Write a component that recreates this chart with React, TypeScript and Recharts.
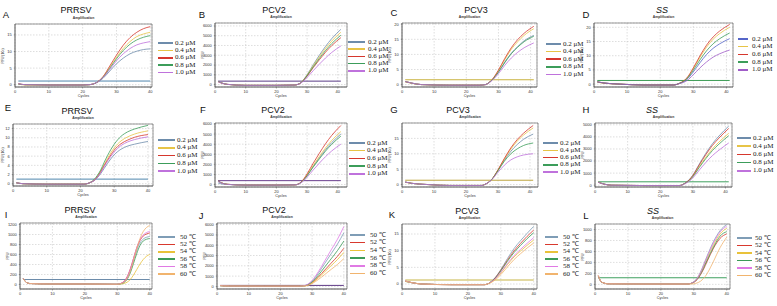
import React from 'react';
import { LineChart, Line, XAxis, YAxis, CartesianGrid, ReferenceLine, ReferenceArea } from 'recharts';

const muNames = ['0.2 μM', '0.4 μM', '0.6 μM', '0.8 μM', '1.0 μM'];
const tempNames = ['50 ℃', '52 ℃', '54 ℃', '56 ℃', '58 ℃', '60 ℃'];
const muColors = ['#6d8cab', '#e7c447', '#d6372d', '#3c9d5a', '#bf72dc'];
const muColorsD = ['#5565c8', '#e7c447', '#d6372d', '#3c9d5a', '#a05cc8'];
const tempColors = ['#7f9db6', '#d8392e', '#e9c23a', '#3c9a58', '#e07ae4', '#f1b46e'];
const xTicks = [0, 10, 20, 30, 40];

// Panel A – PRRSV primer conc.
const cyclesA = [1, 3, 10, 20, 22, 24, 26, 28, 30, 32, 34, 36, 38, 40];
const a02 = [0.2, 0.0, -0.1, -0.1, 0.0, 0.5, 1.9, 4.1, 6.3, 8.0, 9.3, 10.1, 10.6, 10.8];
const a04 = [0.2, -0.1, -0.1, -0.1, 0.0, 0.6, 2.3, 5.2, 8.2, 10.9, 13.0, 14.5, 15.3, 15.8];
const a06 = [0.3, 0.0, -0.1, -0.1, 0.0, 0.6, 2.4, 5.6, 8.9, 11.9, 14.2, 15.8, 16.9, 17.5];
const a08 = [0.2, 0.0, -0.1, -0.1, 0.0, 0.6, 2.2, 4.9, 7.8, 10.3, 12.2, 13.5, 14.3, 14.8];
const a10 = [0.3, 0.0, -0.1, -0.1, 0.0, 0.6, 2.1, 4.6, 7.2, 9.3, 10.9, 12.0, 12.6, 13.0];

// Panel B – PCV2
const cyclesB = [1, 2, 4, 10, 20, 26, 27, 28, 29, 30, 32, 34, 36, 38, 41];
const b02 = [320, 180, 20, -80, -80, -50, 30, 200, 560, 1000, 2030, 3000, 3900, 4690, 5650];
const b04 = [300, 170, 20, -80, -80, -50, 20, 190, 530, 960, 1930, 2840, 3690, 4440, 5350];
const b06 = [310, 170, 20, -80, -80, -50, 20, 170, 480, 860, 1730, 2540, 3310, 3980, 4800];
const b08 = [330, 180, 20, -80, -80, -50, 20, 180, 500, 910, 1820, 2680, 3480, 4190, 5050];
const b10 = [290, 160, 20, -80, -80, -50, 20, 160, 400, 720, 1420, 2090, 2720, 3280, 3950];

// Panel C – PCV3
const cyclesC = [1, 3, 6, 15, 24, 26, 27, 28, 30, 32, 34, 36, 38, 41];
const c02 = [1.0, 0.5, 0.0, -0.2, -0.2, 0.0, 0.6, 1.5, 4.2, 7.5, 10.4, 12.6, 14.5, 16.3];
const c04 = [0.9, 0.4, 0.0, -0.2, -0.2, 0.0, 0.6, 1.6, 4.6, 8.3, 11.7, 14.2, 16.3, 18.5];
const c06 = [1.0, 0.5, 0.0, -0.2, -0.2, 0.0, 0.6, 1.6, 4.8, 8.7, 12.2, 14.9, 17.0, 19.3];
const c08 = [1.0, 0.5, 0.0, -0.2, -0.2, 0.0, 0.6, 1.5, 4.1, 7.3, 10.2, 12.4, 14.2, 16.0];
const c10 = [1.0, 0.5, 0.0, -0.2, -0.2, 0.0, 0.5, 1.3, 3.6, 6.4, 8.8, 10.7, 12.2, 13.8];

// Panel D – SS
const cyclesD = [1, 3, 8, 15, 24, 26, 27, 28, 30, 32, 34, 36, 38, 41];
const d02 = [0.8, 0.4, 0.0, -0.3, -0.3, 0.3, 0.8, 1.6, 4.3, 7.5, 10.4, 12.6, 14.2, 16.0];
const d04 = [0.7, 0.3, 0.0, -0.3, -0.3, 0.4, 1.0, 2.0, 5.4, 9.4, 13.0, 15.8, 17.8, 20.0];
const d06 = [0.8, 0.4, 0.0, -0.3, -0.3, 0.4, 1.1, 2.1, 5.7, 9.9, 13.7, 16.6, 18.7, 21.0];
const d08 = [0.8, 0.4, 0.0, -0.3, -0.3, 0.4, 0.9, 1.8, 4.9, 8.5, 11.7, 14.2, 16.0, 18.0];
const d10 = [0.8, 0.4, 0.0, -0.3, -0.3, 0.3, 0.6, 1.2, 3.3, 5.7, 7.8, 9.5, 10.7, 12.0];

// Panel E – PRRSV probe conc.
const cyclesE = [1, 3, 10, 21, 23, 24, 25, 26, 27, 28, 30, 32, 34, 36, 40];
const e02 = [0.2, 0.0, -0.1, -0.1, 0.3, 0.6, 1.3, 2.2, 3.3, 4.4, 6.3, 7.5, 8.2, 8.6, 9.2];
const e04 = [0.2, 0.0, -0.1, -0.1, 0.3, 0.8, 1.6, 2.8, 4.1, 5.5, 7.8, 9.3, 10.2, 10.8, 11.5];
const e06 = [0.2, 0.0, -0.1, -0.1, 0.3, 0.7, 1.5, 2.6, 3.9, 5.1, 7.3, 8.7, 9.5, 10.1, 10.7];
const e08 = [0.2, 0.0, -0.1, -0.1, 0.3, 0.9, 1.8, 3.0, 4.6, 6.1, 8.6, 10.3, 11.3, 11.9, 12.7];
const e10 = [0.2, 0.0, -0.1, -0.1, 0.3, 0.7, 1.4, 2.4, 3.7, 4.9, 6.9, 8.3, 9.1, 9.6, 10.2];

// Panel F – PCV2
const cyclesF = [1, 2, 4, 10, 20, 26, 27, 28, 29, 30, 32, 34, 36, 38, 41];
const f02 = [150, 60, 0, -60, -60, -40, 20, 200, 500, 900, 1800, 2650, 3450, 4150, 5000];
const f04 = [330, 170, 20, -60, -60, -40, 20, 210, 530, 950, 1890, 2780, 3620, 4360, 5250];
const f06 = [350, 180, 20, -60, -60, -40, 30, 230, 590, 1050, 2110, 3100, 4040, 4860, 5850];
const f08 = [340, 170, 20, -60, -60, -40, 20, 190, 480, 860, 1730, 2540, 3310, 3980, 4800];
const f10 = [300, 150, 10, -60, -60, -40, 20, 160, 400, 720, 1440, 2120, 2760, 3320, 4000];

// Panel G – PCV3
const cyclesG = [1, 3, 8, 15, 25, 26, 27, 28, 30, 32, 34, 36, 38, 41];
const g02 = [0.8, 0.4, 0.0, -0.3, -0.3, 0.1, 0.7, 1.6, 4.6, 7.9, 10.8, 13.0, 14.7, 16.4];
const g04 = [0.7, 0.4, 0.0, -0.3, -0.3, 0.1, 0.7, 1.6, 4.7, 8.3, 11.5, 14.1, 16.1, 18.4];
const g06 = [0.8, 0.4, 0.0, -0.3, -0.3, 0.1, 0.7, 1.6, 4.8, 8.5, 11.9, 14.6, 16.7, 19.2];
const g08 = [0.8, 0.4, 0.0, -0.3, -0.3, 0.1, 0.7, 1.6, 4.5, 7.6, 10.0, 11.6, 12.7, 13.5];
const g10 = [0.8, 0.4, 0.0, -0.3, -0.3, 0.1, 0.7, 1.5, 4.0, 6.3, 8.0, 9.0, 9.6, 10.0];

// Panel H – SS
const cyclesH = [1, 3, 5, 15, 26, 27, 28, 29, 30, 32, 34, 36, 38, 41];
const h02 = [250, 80, 0, -30, -30, 70, 250, 490, 830, 1760, 2650, 3430, 4070, 4900];
const h04 = [260, 80, 0, -30, -30, 60, 220, 430, 730, 1550, 2320, 3010, 3570, 4300];
const h06 = [240, 70, 0, -30, -30, 70, 240, 470, 800, 1690, 2540, 3290, 3900, 4700];
const h08 = [250, 80, 0, -30, -30, 60, 210, 410, 700, 1480, 2210, 2870, 3400, 4100];
const h10 = [240, 70, 0, -30, -30, 50, 180, 350, 600, 1260, 1890, 2450, 2900, 3500];

// Panel I – PRRSV annealing temp.
const cyclesI = [1, 2, 3, 10, 20, 30, 31, 32, 33, 34, 35, 36, 37, 38, 39, 40];
const i50 = [120, 40, 20, 10, 10, 5, 15, 45, 120, 270, 470, 680, 830, 910, 945, 960];
const i52 = [120, 40, 20, 10, 10, 5, 20, 60, 150, 310, 520, 730, 880, 970, 1010, 1030];
const i54 = [110, 40, 20, 10, 10, 3, 8, 20, 45, 100, 190, 300, 410, 500, 565, 600];
const i56 = [120, 40, 20, 10, 10, 5, 12, 35, 100, 230, 420, 620, 780, 870, 905, 920];
const i58 = [120, 40, 20, 10, 10, 5, 20, 55, 140, 300, 520, 740, 900, 990, 1040, 1060];
const i60 = [120, 40, 20, 10, 10, 5, 15, 40, 110, 260, 480, 720, 920, 1060, 1140, 1180];

// Panel J – PCV2
const cyclesJ = [1, 2, 4, 15, 26, 27, 28, 29, 30, 32, 34, 36, 38, 40];
const j50 = [80, 50, 40, 30, 30, 55, 105, 260, 520, 1300, 2240, 3170, 4110, 5200];
const j52 = [90, 60, 40, 30, 30, 50, 75, 185, 370, 925, 1590, 2260, 2920, 3700];
const j54 = [80, 50, 40, 30, 30, 45, 65, 165, 330, 825, 1420, 2010, 2610, 3300];
const j56 = [80, 50, 40, 30, 30, 50, 90, 220, 440, 1100, 1890, 2680, 3480, 4400];
const j58 = [90, 60, 40, 30, 30, 60, 120, 290, 580, 1450, 2490, 3540, 4580, 5800];
const j60 = [80, 50, 40, 30, 30, 40, 55, 135, 270, 675, 1160, 1650, 2130, 2700];

// Panel K – PCV3
const cyclesK = [1, 3, 6, 15, 25, 26, 27, 28, 30, 32, 34, 36, 38, 40];
const k50 = [0.8, 0.4, 0.0, -0.2, -0.2, 0.0, 0.7, 1.6, 4.3, 7.6, 10.6, 13.0, 15.2, 17.3];
const k52 = [0.9, 0.4, 0.0, -0.2, -0.2, 0.0, 0.6, 1.5, 4.1, 7.1, 9.9, 12.2, 14.3, 16.2];
const k54 = [0.8, 0.4, 0.0, -0.2, -0.2, 0.0, 0.5, 1.2, 3.3, 5.8, 8.1, 9.9, 11.6, 13.2];
const k56 = [0.8, 0.4, 0.0, -0.2, -0.2, 0.0, 0.6, 1.4, 3.9, 6.8, 9.4, 11.6, 13.6, 15.4];
const k58 = [0.9, 0.4, 0.0, -0.2, -0.2, 0.0, 0.6, 1.3, 3.5, 6.1, 8.5, 10.4, 12.2, 13.9];
const k60 = [0.8, 0.4, 0.0, -0.2, -0.2, 0.0, 0.4, 1.0, 2.8, 5.1, 7.3, 9.1, 10.8, 12.3];

// Panel L – SS
const cyclesL = [1, 2, 4, 15, 28, 30, 31, 32, 33, 34, 35, 36, 37, 38, 40];
const l50 = [160, 40, 10, 5, 5, 45, 110, 220, 360, 510, 650, 780, 890, 980, 1090];
const l52 = [150, 40, 10, 5, 5, 35, 85, 170, 280, 410, 540, 660, 760, 840, 920];
const l54 = [160, 40, 10, 5, 5, 40, 100, 200, 330, 470, 600, 720, 830, 920, 1020];
const l56 = [150, 40, 10, 5, 5, 40, 95, 185, 305, 435, 560, 680, 790, 880, 960];
const l58 = [160, 40, 10, 5, 5, 45, 105, 210, 345, 490, 630, 755, 865, 955, 1060];
const l60 = [160, 40, 10, 5, 5, 10, 25, 55, 110, 190, 300, 420, 550, 670, 860];

const thresholds = { A: 1.1, B: 350, C: 1.6, D: 1.3, E: 1.0, F: 380, G: 1.4, H: 280, I: 100, J: 100, K: 1.2, L: 120 };

type Spec = {
  letter: string;
  title: string;
  italic?: boolean;
  letterPos: [number, number];
  titlePos: [number, number];
  plot: [number, number, number, number];
  xDomain: [number, number];
  yDomain: [number, number];
  yTicks: number[];
  yLabel: string;
  cycles: number[];
  series: number[][];
  names: string[];
  colors: string[];
  threshold: number;
  thrColor: string;
  legend: [number, number, number, number, number];
};

const panels: Spec[] = [
  { letter: 'A', title: 'PRRSV', letterPos: [6, 15], titlePos: [76, 10], plot: [15, 24, 137, 63], xDomain: [0, 40.5], yDomain: [-0.7, 18.3], yTicks: [0, 5, 10, 15], yLabel: 'RFU (10³)', cycles: cyclesA, series: [a02, a04, a06, a08, a10], names: muNames, colors: muColors, threshold: thresholds.A, thrColor: '#4f86ad', legend: [158, 43, 7.4, 15, 2] },
  { letter: 'B', title: 'PCV2', letterPos: [202, 15], titlePos: [274, 10], plot: [215, 23, 132, 64], xDomain: [0, 43], yDomain: [-250, 6300], yTicks: [0, 1000, 2000, 3000, 4000, 5000, 6000], yLabel: 'RFU', cycles: cyclesB, series: [b02, b04, b06, b08, b10], names: muNames, colors: muColors, threshold: thresholds.B, thrColor: '#5a3c86', legend: [348, 42, 7.2, 17, 3] },
  { letter: 'C', title: 'PCV3', letterPos: [394, 13], titlePos: [476, 10], plot: [402, 23, 135, 64], xDomain: [0, 42], yDomain: [-0.8, 20.4], yTicks: [0, 5, 10, 15, 20], yLabel: 'RFU (10³)', cycles: cyclesC, series: [c02, c04, c06, c08, c10], names: muNames, colors: muColors, threshold: thresholds.C, thrColor: '#c9b23e', legend: [546, 44, 7.6, 15, 2] },
  { letter: 'D', title: 'SS', italic: true, letterPos: [586, 15], titlePos: [662, 10], plot: [594, 23, 139, 64], xDomain: [0, 42], yDomain: [-1, 21.5], yTicks: [0, 5, 10, 15, 20], yLabel: 'RFU (10³)', cycles: cyclesD, series: [d02, d04, d06, d08, d10], names: muNames, colors: muColorsD, threshold: thresholds.D, thrColor: '#3d9c55', legend: [738, 39, 7.7, 10, 4] },

  { letter: 'E', title: 'PRRSV', letterPos: [8, 108], titlePos: [77, 111], plot: [13, 124, 140, 62], xDomain: [0, 41.5], yDomain: [-0.5, 13], yTicks: [0, 2, 4, 6, 8, 10, 12], yLabel: 'RFU (10³)', cycles: cyclesE, series: [e02, e04, e06, e08, e10], names: muNames, colors: muColors, threshold: thresholds.E, thrColor: '#4f86ad', legend: [158, 140, 7.8, 17, 2] },
  { letter: 'F', title: 'PCV2', letterPos: [203, 110], titlePos: [273, 110], plot: [215, 123, 132, 64], xDomain: [0, 43], yDomain: [-250, 6100], yTicks: [0, 1000, 2000, 3000, 4000, 5000, 6000], yLabel: 'RFU', cycles: cyclesF, series: [f02, f04, f06, f08, f10], names: muNames, colors: muColors, threshold: thresholds.F, thrColor: '#6b3f8e', legend: [349, 143, 7.7, 16, 2] },
  { letter: 'G', title: 'PCV3', letterPos: [394, 110], titlePos: [458, 110], plot: [402, 123, 136, 64], xDomain: [0, 42.5], yDomain: [-0.8, 20], yTicks: [0, 5, 10, 15], yLabel: 'RFU (10³)', cycles: cyclesG, series: [g02, g04, g06, g08, g10], names: muNames, colors: muColors, threshold: thresholds.G, thrColor: '#bda43d', legend: [543, 143, 7.3, 15, 2] },
  { letter: 'H', title: 'SS', italic: true, letterPos: [586, 110], titlePos: [652, 110], plot: [595, 123, 137, 64], xDomain: [0, 42], yDomain: [-150, 5150], yTicks: [0, 1000, 2000, 3000, 4000, 5000], yLabel: 'RFU', cycles: cyclesH, series: [h02, h04, h06, h08, h10], names: muNames, colors: muColors, threshold: thresholds.H, thrColor: '#3fa05f', legend: [737, 138, 8.2, 14, 2] },

  { letter: 'I', title: 'PRRSV', letterPos: [6, 215], titlePos: [80, 210], plot: [20, 223, 132, 66], xDomain: [0, 40.7], yDomain: [-90, 1230], yTicks: [0, 200, 400, 600, 800, 1000, 1200], yLabel: 'RFU', cycles: cyclesI, series: [i50, i52, i54, i56, i58, i60], names: tempNames, colors: tempColors, threshold: thresholds.I, thrColor: '#6d8cab', legend: [158, 237, 7.4, 17, 5] },
  { letter: 'J', title: 'PCV2', letterPos: [201, 216], titlePos: [274, 210], plot: [217, 223, 130, 66], xDomain: [0, 41], yDomain: [-250, 6150], yTicks: [0, 1000, 2000, 3000, 4000, 5000, 6000], yLabel: 'RFU', cycles: cyclesJ, series: [j50, j52, j54, j56, j58, j60], names: tempNames, colors: tempColors, threshold: thresholds.J, thrColor: '#5e3a86', legend: [350, 235, 7.7, 15, 5] },
  { letter: 'K', title: 'PCV3', letterPos: [392, 215], titlePos: [467, 211], plot: [402, 224, 135, 65], xDomain: [0, 41], yDomain: [-1.5, 18], yTicks: [0, 5, 10, 15], yLabel: 'RFU (10³)', cycles: cyclesK, series: [k50, k52, k54, k56, k58, k60], names: tempNames, colors: tempColors, threshold: thresholds.K, thrColor: '#c7b445', legend: [545, 237, 7.4, 13, 5] },
  { letter: 'L', title: 'SS', italic: true, letterPos: [586, 216], titlePos: [653, 211], plot: [595, 224, 135, 65], xDomain: [0, 41], yDomain: [-85, 1100], yTicks: [0, 200, 400, 600, 800, 1000], yLabel: 'RFU', cycles: cyclesL, series: [l50, l52, l54, l56, l58, l60], names: tempNames, colors: tempColors, threshold: thresholds.L, thrColor: '#3fa05f', legend: [737, 238, 7.5, 15, 3] },
];

const YW = 14;
const XH = 10;
const MT = 4;
const MR = 4;
const SANS = '"Liberation Sans", Arial, sans-serif';
const SERIF = '"Liberation Serif", "Times New Roman", serif';

function Txt({ x, y, children, style, rotate }: { x: number; y: number; children: React.ReactNode; style?: React.CSSProperties; rotate?: boolean }) {
  return (
    <div
      style={{
        position: 'absolute',
        left: x,
        top: y,
        transform: rotate ? 'translate(-50%, -50%) rotate(-90deg)' : 'translate(-50%, -50%)',
        whiteSpace: 'nowrap',
        lineHeight: 1,
        zIndex: 2,
        ...style,
      }}
    >
      {children}
    </div>
  );
}

function Panel({ s }: { s: Spec }) {
  const [px, py, pw, ph] = s.plot;
  const rows = s.cycles.map((c, i) => {
    const r: Record<string, number> = { c };
    s.series.forEach((arr, k) => {
      r['s' + k] = arr[i];
    });
    return r;
  });
  const first = s.cycles[0];
  const last = s.cycles[s.cycles.length - 1];
  const tickStyle = { fontSize: 4, fill: '#333', fontFamily: SANS };
  const [lx, ly, lsp, lw, lgap] = s.legend;
  return (
    <>
      <div style={{ position: 'absolute', left: px - YW, top: py - MT, zIndex: 1 }}>
        <LineChart width={YW + pw + MR} height={MT + ph + XH} data={rows} margin={{ top: MT, right: MR, bottom: 0, left: 0 }}>
          <CartesianGrid stroke="#bdbdbd" strokeDasharray="1.5 1.5" strokeWidth={0.5} />
          <XAxis
            dataKey="c"
            type="number"
            domain={s.xDomain}
            ticks={xTicks}
            allowDataOverflow
            interval={0}
            height={XH}
            tick={tickStyle}
            tickSize={1.5}
            axisLine={{ stroke: '#555', strokeWidth: 0.6 }}
            tickLine={{ stroke: '#555', strokeWidth: 0.5 }}
          />
          <YAxis
            type="number"
            domain={s.yDomain}
            ticks={s.yTicks}
            allowDataOverflow
            interval={0}
            width={YW}
            tick={tickStyle}
            tickSize={1.2}
            axisLine={{ stroke: '#555', strokeWidth: 0.6 }}
            tickLine={{ stroke: '#555', strokeWidth: 0.5 }}
          />
          <ReferenceArea x1={s.xDomain[0]} x2={s.xDomain[1]} y1={s.yDomain[0]} y2={s.yDomain[1]} fill="none" stroke="#555" strokeWidth={0.6} />
          <ReferenceLine segment={[{ x: first, y: s.threshold }, { x: last, y: s.threshold }]} stroke={s.thrColor} strokeWidth={1} />
          {s.series.map((_, k) => (
            <Line key={k} dataKey={'s' + k} type="monotone" dot={false} stroke={s.colors[k]} strokeWidth={0.8} isAnimationActive={false} />
          ))}
        </LineChart>
      </div>
      <Txt x={s.letterPos[0]} y={s.letterPos[1]} style={{ fontSize: 9.5, fontFamily: SANS, color: '#111' }}>{s.letter}</Txt>
      <Txt x={s.titlePos[0]} y={s.titlePos[1]} style={{ fontSize: 9, fontFamily: SANS, color: '#111', fontStyle: s.italic ? 'italic' : 'normal' }}>{s.title}</Txt>
      <Txt x={px + pw / 2} y={py - 4.8} style={{ fontSize: 3.4, fontFamily: SANS, color: '#333', fontWeight: 'bold' }}>Amplification</Txt>
      <Txt x={px + pw / 2} y={py + ph + 9.5} style={{ fontSize: 3.8, fontFamily: SANS, color: '#333' }}>Cycles</Txt>
      <Txt x={Math.max(px - 11, 4)} y={py + ph / 2} rotate style={{ fontSize: 3.4, fontFamily: SANS, color: '#333' }}>{s.yLabel}</Txt>
      {s.names.map((n, k) => (
        <div key={n} style={{ position: 'absolute', left: lx, top: ly + k * lsp - 4, height: 8, display: 'flex', alignItems: 'center', whiteSpace: 'nowrap', zIndex: 2 }}>
          <div style={{ width: lw, height: 1.6, background: s.colors[k] }} />
          <div style={{ marginLeft: lgap, fontSize: 7, fontFamily: SERIF, color: '#222', lineHeight: 1 }}>{n}</div>
        </div>
      ))}
    </>
  );
}

export default function App() {
  return (
    <div style={{ position: 'absolute', left: 0, top: 0, width: 777, height: 306, background: '#fff', overflow: 'hidden' }}>
      {panels.map((p) => (
        <Panel key={p.letter} s={p} />
      ))}
    </div>
  );
}
